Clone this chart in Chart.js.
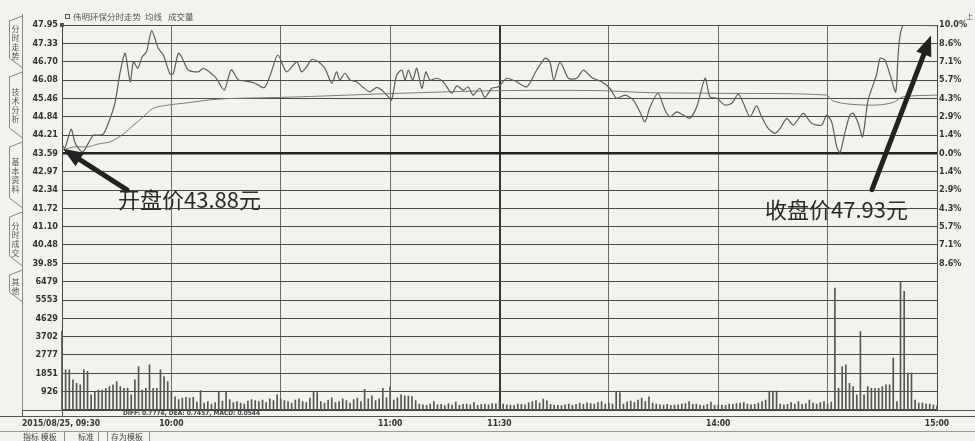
<!DOCTYPE html>
<html>
<head>
<meta charset="utf-8">
<script src="https://cdn.jsdelivr.net/npm/chart.js@4"></script>
<style>
  html, body { margin: 0; padding: 0; background: #f3f2ed; }
  #grafico { display: block; }
</style>
</head>
<body>
<canvas id="grafico" width="975" height="441"></canvas>
<script>
// 伟明环保 2015/08/25 分时走势 (minutes after 09:30, lunch break removed)
const priceMinutes = [0,0.8,2.5,3.6,4.9,5.8,7.2,8.6,9.5,11.3,12.7,14.5,15.9,17.3,18.7,19.6,20.8,22.0,23.2,24.6,
  26.4,27.8,29.6,30.5,31.9,32.8,34.6,37.4,38.8,42.0,44.5,46.4,48.4,50.2,52.9,55.5,57.3,59.2,61.6,64.4,
  65.7,67.1,68.5,70.3,72.1,74.0,75.3,76.2,77.6,79.0,80.8,82.6,84.5,86.3,87.7,89.5,90.4,91.8,93.2,94.1,
  95.0,96.2,97.3,98.7,99.8,100.9,102.8,104.6,106.9,108.3,110.1,111.4,112.8,114.6,116.0,117.9,119.7,122.0,124.7,127.5,
  130.2,132.5,133.8,134.9,136.6,138.9,141.2,143.0,145.3,148.0,150.3,152.1,154.4,156.7,158.5,159.9,161.3,163.5,165.4,166.8,
  168.6,170.4,172.2,174.1,176.4,177.7,179.6,181.8,183.7,185.5,186.9,188.7,190.5,191.9,193.7,195.6,197.0,198.8,200.6,203.3,
  205.6,208.4,209.7,211.1,212.5,213.4,214.7,216.1,217.0,218.4,219.6,221.1,223.4,224.4,225.7,227.3,228.7,230.7,240];
const prices = [43.88,43.77,44.41,43.94,43.70,43.64,43.93,44.21,44.21,44.24,44.61,45.29,46.31,46.99,46.02,46.70,46.48,46.87,47.04,47.76,
  47.16,46.93,46.29,46.29,46.99,46.87,46.42,46.36,46.48,46.19,45.74,46.42,46.08,46.05,45.97,45.82,46.31,46.93,46.36,46.70,
  46.36,46.53,46.78,46.70,46.48,45.97,46.36,46.08,46.31,46.08,46.02,45.83,45.68,45.83,45.74,45.51,45.40,46.25,46.42,46.08,
  46.42,46.08,46.48,45.80,46.36,46.08,46.14,46.02,45.63,45.88,45.74,45.85,45.57,45.80,45.49,45.80,45.85,46.14,46.02,45.85,
  46.42,46.82,46.70,46.08,46.70,46.14,46.14,46.42,46.17,46.02,45.80,45.46,45.57,45.40,45.00,44.66,45.17,45.63,45.06,44.83,
  45.00,44.89,44.78,45.17,46.14,45.51,45.46,45.23,45.29,45.60,45.29,44.83,45.20,44.83,44.44,44.27,44.44,44.78,44.55,44.95,
  44.61,44.55,44.89,44.66,43.81,43.61,44.27,44.89,44.95,44.61,44.15,45.40,46.25,46.82,46.76,46.19,45.68,47.95,47.93];

// 均线
const avgMinutes = [0,3.6,7.2,10.0,13.2,16.4,19.1,22.3,25.0,29.2,34.6,40.1,45.6,56.5,65.3,92.7,120.1,147.6,161.3,179.6,209.7,211.5,216.1,223.4,228.0,230.7,240];
const avgPrices = [43.70,43.81,43.81,43.91,43.98,44.21,44.49,44.83,45.12,45.23,45.31,45.40,45.45,45.48,45.51,45.63,45.72,45.72,45.65,45.63,45.57,45.37,45.26,45.23,45.32,45.51,45.57];

// 成交量, one bar per minute (0..240)
const volumes = [
  3980,2030,2030,1520,1350,1270,2030,1950,760,930,1010,1010,1100,1180,1270,1430,1180,1100,1100,760,1520,2190,1010,1100,2280,1100,1100,2030,1690,1430,
  930,670,520,600,640,600,640,400,980,350,420,300,380,890,450,890,520,380,420,350,300,450,520,480,420,500,380,560,470,760,
  560,480,420,350,500,560,420,380,600,890,880,420,350,500,620,380,420,560,480,350,520,600,420,1045,560,720,480,560,1100,620,
  1180,500,620,760,720,700,680,480,300,260,240,300,420,260,280,220,330,250,400,240,280,300,260,380,240,280,300,260,320,310,
  420,300,260,250,220,300,280,260,360,420,480,350,550,460,280,250,230,220,260,300,240,280,350,290,360,330,300,380,420,300,
  350,300,930,880,300,400,450,380,500,600,420,670,350,300,260,250,280,240,250,260,300,320,420,280,300,250,220,280,400,240,
  260,250,240,300,280,320,350,380,300,260,280,350,420,500,960,960,960,300,260,280,380,300,420,280,320,500,350,300,380,420,
  300,400,6160,1100,2190,2280,1350,1180,760,3960,760,1180,1100,1100,1100,1180,1270,1270,2620,420,6450,5990,1860,1860,500,350,350,300,300,250,200];

const prevClose = 43.59;
const priceMin = 39.23;
const priceMax = 47.95;
const priceTicks = [47.95,47.33,46.70,46.08,45.46,44.84,44.21,43.59,42.97,42.34,41.72,41.10,40.48,39.85];
const priceLabels = ['47.95','47.33','46.70','46.08','45.46','44.84','44.21','43.59','42.97','42.34','41.72','41.10','40.48','39.85'];
const pctLabels = ['10.0%','8.6%','7.1%','5.7%','4.3%','2.9%','1.4%','0.0%','1.4%','2.9%','4.3%','5.7%','7.1%','8.6%'];
const volMax = 6479;
const volTicks = [0,926,1851,2777,3702,4629,5553,6479];
const volLabels = ['','926','1851','2777','3702','4629','5553','6479'];
const gridMinutes = [0,30,60,90,120,150,180,210,240];
const timeTicks = [0,30,90,120,180,240];
const timeLabels = ['2015/08/25, 09:30','10:00','11:00','11:30','14:00','15:00'];
const openPrice = 43.88;
const closePrice = 47.93;

const narrow = '"DejaVu Sans Condensed", "Liberation Sans Narrow", sans-serif';
const cjk = '"Noto Sans CJK SC", sans-serif';

function arrow(c, x1, y1, x2, y2) {
  const a = Math.atan2(y2 - y1, x2 - x1);
  const head = 20, w = 8;
  c.lineWidth = 5;
  c.lineCap = 'round';
  c.beginPath();
  c.moveTo(x1, y1);
  c.lineTo(x2 - Math.cos(a) * head * 0.7, y2 - Math.sin(a) * head * 0.7);
  c.stroke();
  c.beginPath();
  c.moveTo(x2, y2);
  c.lineTo(x2 - head * Math.cos(a) + w * Math.sin(a), y2 - head * Math.sin(a) - w * Math.cos(a));
  c.lineTo(x2 - head * Math.cos(a) - w * Math.sin(a), y2 - head * Math.sin(a) + w * Math.cos(a));
  c.closePath();
  c.fill();
}

const decor = {
  id: 'decor',
  beforeDraw(chart) {
    const c = chart.ctx;
    c.save();
    c.fillStyle = '#f3f2ed';
    c.fillRect(0, 0, chart.width, chart.height);
    c.restore();
  },
  afterDraw(chart) {
    const c = chart.ctx;
    const xs = chart.scales.x, ys = chart.scales.y;
    const area = chart.chartArea;
    c.save();

    // left tabs
    c.strokeStyle = '#888';
    c.lineWidth = 1;
    c.beginPath();
    c.moveTo(22.5, 14); c.lineTo(22.5, 416);
    c.stroke();
    const tabs = [['分时走势', 16, 68], ['技术分析', 72, 138], ['基本资料', 142, 208], ['分时成交', 212, 266], ['其他', 270, 302]];
    c.fillStyle = '#555';
    c.font = '8px ' + cjk;
    c.textAlign = 'center';
    c.textBaseline = 'middle';
    tabs.forEach(([t, top, bot]) => {
      c.beginPath();
      c.moveTo(22.5, top); c.lineTo(9.5, top + 5); c.lineTo(9.5, bot - 10); c.lineTo(22.5, bot);
      c.stroke();
      const start = (top + bot) / 2 - (t.length - 1) * 4.5;
      [...t].forEach((ch, i) => c.fillText(ch, 15.5, start + i * 9));
    });

    // title
    c.textAlign = 'left';
    c.fillStyle = '#555';
    c.strokeStyle = '#555';
    c.strokeRect(65.5, 14.5, 4, 4);
    c.fillRect(area.left - 2, area.top - 2, 4, 4);
    c.font = '8.5px ' + cjk;
    c.fillText('伟明环保分时走势', 73, 17);
    c.fillText('均线', 145, 17);
    c.fillText('成交量', 168, 17);
    c.font = '7px ' + cjk;
    c.fillText('上', 966, 16);

    // strip under volume
    c.font = 'bold 6.5px ' + narrow;
    c.fillStyle = '#444';
    c.fillText('DIFF: 0.7774, DEA: 0.7457, MACD: 0.0544', 123, 413.5);
    c.strokeStyle = '#555';
    c.beginPath();
    c.moveTo(0, 416.5); c.lineTo(975, 416.5);
    c.moveTo(area.right, area.bottom + 0.5); c.lineTo(975, area.bottom + 0.5);
    c.stroke();
    c.strokeRect(22.5, area.bottom + 0.5, area.left - 22, 6);
    c.strokeStyle = '#999';
    c.beginPath();
    c.moveTo(0, 431.5); c.lineTo(975, 431.5);
    c.stroke();

    // time labels
    c.font = 'bold 8.5px ' + narrow;
    c.fillStyle = '#333';
    timeTicks.forEach((m, i) => {
      if (i === 0) {
        c.textAlign = 'left';
        c.fillText(timeLabels[i], 22, 424);
      } else {
        c.textAlign = 'center';
        c.fillText(timeLabels[i], xs.getPixelForValue(m), 424);
      }
    });

    // bottom tabs
    c.font = '8px ' + cjk;
    c.textAlign = 'left';
    c.fillStyle = '#444';
    c.fillText('指标 模板', 23, 436.5);
    c.fillText('标准', 78, 436.5);
    c.fillText('存为模板', 111, 436.5);
    c.strokeStyle = '#888';
    c.beginPath();
    c.moveTo(64.5, 432); c.lineTo(64.5, 441);
    c.moveTo(98.5, 432); c.lineTo(98.5, 441);
    c.moveTo(107.5, 432); c.lineTo(107.5, 441);
    c.moveTo(149.5, 432); c.lineTo(149.5, 441);
    c.stroke();

    // annotations
    c.strokeStyle = '#222';
    c.fillStyle = '#222';
    const ox = xs.getPixelForValue(priceMinutes[0]) + 1;
    const oy = ys.getPixelForValue(openPrice) + 4;
    arrow(c, ox + 64, oy + 41, ox, oy);
    const cx = xs.getPixelForValue(priceMinutes[priceMinutes.length - 1]) - 6;
    const cy = ys.getPixelForValue(closePrice) + 10;
    arrow(c, cx - 59, cy + 154, cx, cy);
    c.font = '22px ' + cjk;
    c.fillStyle = '#2a2a2a';
    c.textAlign = 'left';
    c.textBaseline = 'middle';
    c.fillText('开盘价' + openPrice.toFixed(2) + '元', 118, 200);
    c.fillText('收盘价' + closePrice.toFixed(2) + '元', 765, 210);

    c.restore();
  }
};

const tickFont = { family: narrow, size: 9, weight: 'bold' };

const myChart = new Chart(document.getElementById('grafico').getContext('2d'), {
  type: 'line',
  data: {
    datasets: [
      {
        label: '分时',
        data: priceMinutes.map((m, i) => ({ x: m, y: prices[i] })),
        borderColor: '#5c5c5c',
        borderWidth: 1.2,
        pointRadius: 0,
        tension: 0.25,
        yAxisID: 'y'
      },
      {
        label: '均线',
        data: avgMinutes.map((m, i) => ({ x: m, y: avgPrices[i] })),
        borderColor: '#7a7a7a',
        borderWidth: 1,
        pointRadius: 0,
        tension: 0.3,
        yAxisID: 'y'
      },
      {
        type: 'bar',
        label: '成交量',
        data: volumes.map((v, i) => ({ x: i, y: v })),
        backgroundColor: '#555',
        barThickness: 1,
        clip: 3,
        yAxisID: 'yVol'
      }
    ]
  },
  options: {
    responsive: false,
    animation: false,
    layout: { padding: { top: 25, left: 0, right: 0, bottom: 0 } },
    plugins: { legend: { display: false }, tooltip: { enabled: false } },
    scales: {
      x: {
        type: 'linear',
        min: 0,
        max: 240,
        offset: false,
        afterBuildTicks: s => { s.ticks = gridMinutes.map(v => ({ value: v })); },
        afterFit: s => { s.height = 31; },
        ticks: { display: false },
        grid: {
          offset: false,
          drawTicks: false,
          color: ctx => ctx.tick && ctx.tick.value === 120 ? '#333' : '#6a6a6a',
          lineWidth: ctx => ctx.tick && ctx.tick.value === 120 ? 2 : 1
        },
        border: { display: true, color: '#444' }
      },
      y: {
        position: 'left',
        stack: 'left',
        stackWeight: 14,
        weight: 2,
        min: priceMin,
        max: priceMax,
        afterBuildTicks: s => { s.ticks = priceTicks.map(v => ({ value: v })); },
        afterFit: s => { s.width = 62; },
        ticks: {
          font: tickFont,
          color: '#333',
          padding: 4,
          autoSkip: false,
          callback: (v, i) => priceLabels[i]
        },
        grid: {
          drawTicks: false,
          color: ctx => ctx.tick && ctx.tick.value === prevClose ? '#222' : '#4a4a4a',
          lineWidth: ctx => ctx.tick && ctx.tick.value === prevClose ? 2.5 : 1
        },
        border: { display: true, color: '#444' }
      },
      yVol: {
        position: 'left',
        stack: 'left',
        stackWeight: 7,
        weight: 1,
        min: 0,
        max: volMax,
        afterBuildTicks: s => { s.ticks = volTicks.map(v => ({ value: v })); },
        afterFit: s => { s.width = 62; },
        ticks: {
          font: tickFont,
          color: '#333',
          padding: 4,
          autoSkip: false,
          callback: (v, i) => volLabels[i]
        },
        grid: { drawTicks: false, color: '#4a4a4a', lineWidth: 1 },
        border: { display: true, color: '#444' }
      },
      yPct: {
        position: 'right',
        stack: 'right',
        stackWeight: 14,
        weight: 1,
        min: priceMin,
        max: priceMax,
        afterBuildTicks: s => { s.ticks = priceTicks.map(v => ({ value: v })); },
        afterFit: s => { s.width = 38; },
        ticks: {
          font: tickFont,
          color: '#333',
          padding: 2,
          autoSkip: false,
          callback: (v, i) => pctLabels[i]
        },
        grid: { display: false, drawTicks: false },
        border: { display: true, color: '#444' }
      },
      yVolR: {
        position: 'right',
        stack: 'right',
        stackWeight: 7,
        weight: 2,
        min: 0,
        max: volMax,
        afterFit: s => { s.width = 38; },
        ticks: { display: false },
        grid: { display: false, drawTicks: false },
        border: { display: true, color: '#444' }
      }
    }
  },
  plugins: [decor]
});
</script>
</body>
</html>
